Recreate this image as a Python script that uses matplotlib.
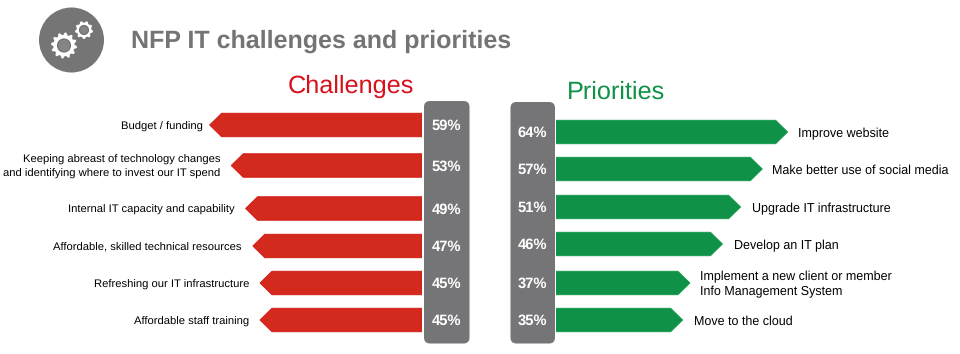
#!/usr/bin/env python3
"""NFP IT challenges and priorities: two mirrored arrow bar lists."""

import matplotlib
matplotlib.use("Agg")
import matplotlib.pyplot as plt
import numpy as np
from matplotlib.patches import Circle, FancyBboxPatch, Polygon

plt.rcParams["font.family"] = ["Liberation Sans", "DejaVu Sans"]
plt.rcParams["text.hinting"] = "no_hinting"

challenge_labels = [
    "Budget / funding",
    "Keeping abreast of technology changes\nand identifying where to invest our IT spend",
    "Internal IT capacity and capability",
    "Affordable, skilled technical resources",
    "Refreshing our IT infrastructure",
    "Affordable staff training",
]
challenge_values = [59, 53, 49, 47, 45, 45]

priority_labels = [
    "Improve website",
    "Make better use of social media",
    "Upgrade IT infrastructure",
    "Develop an IT plan",
    "Implement a new client or member\nInfo Management System",
    "Move to the cloud",
]
priority_values = [64, 57, 51, 46, 37, 35]

W, H = 960, 354
GREY = "#757578"
RED = "#d42a1e"
RED_EDGE = "#d2140f"
GREEN = "#0f9247"
GREEN_EDGE = "#12994c"

# layout in pixels
LEFT_ROWS = [125, 165.5, 208.5, 246, 283, 320]
RIGHT_ROWS = [132, 169, 207, 244, 283, 320]
LEFT_GAPS = [7, 11, 11, 11, 11, 11]
RIGHT_GAPS = [10, 10, 11, 11, 10, 11]
BAR_H = 23.5
LEFT_BASE, RIGHT_BASE = 422, 556
LEFT_PX_PER_PCT, RIGHT_PX_PER_PCT = 3.6, 3.62
HEAD_PX = 12


def gear(ax, cx, cy, r, teeth):
    """White toothed wheel with a ring in the middle."""
    n = teeth * 4
    ang = np.linspace(0, 2 * np.pi, n, endpoint=False) + np.pi / n
    rad = np.tile([r, r, r * 0.82, r * 0.82], teeth)
    pts = np.column_stack([cx + rad * np.cos(ang), cy + rad * np.sin(ang)])
    ax.add_patch(Polygon(pts, closed=True, fc="white", ec="none"))
    ax.add_patch(Circle((cx, cy), r * 0.5, fc="#858587", ec="#6e6e70", lw=0.8))


def arrow_bars(ax, rows, values, px_per_pct, color, edge):
    head = HEAD_PX / px_per_pct
    half = BAR_H / 2
    for y, v in zip(rows, values):
        pts = [(0, y - half), (v - head, y - half), (v, y),
               (v - head, y + half), (0, y + half)]
        ax.add_patch(Polygon(pts, closed=True, fc=color, ec=edge, lw=0.6))


fig = plt.figure(figsize=(W / 100, H / 100), dpi=100)

# pixel-space layer for the header and the grey pills
bg = fig.add_axes([0, 0, 1, 1])
bg.set_xlim(0, W)
bg.set_ylim(H, 0)
bg.axis("off")

bg.add_patch(Circle((71.5, 40), 32.5, fc="#757575", ec="none"))
gear(bg, 64, 45.5, 13, 12)
gear(bg, 84, 30, 9, 9)

bg.text(131, 41.5, "NFP IT challenges and priorities", fontsize=18.0, fontweight="bold",
        color="#747474", va="center", ha="left")
bg.text(351, 86, "Challenges", fontsize=18.2, color="#d7101a", va="center", ha="center")
bg.text(616.5, 92.5, "Priorities", fontsize=18.2, color="#0f9247", va="center", ha="center")

for x0, x1, y0, y1 in [(424, 469.5, 101, 343.5), (510.5, 555, 102, 343.5)]:
    bg.add_patch(FancyBboxPatch((x0 + 6, y0 + 6), x1 - x0 - 12, y1 - y0 - 12,
                                boxstyle="round,pad=6,rounding_size=6",
                                fc=GREY, ec="none"))

for y, v in zip(LEFT_ROWS, challenge_values):
    bg.text(446.5, y + 1, f"{v}%", color="white", fontsize=10.6, fontweight="bold",
            ha="center", va="center")
for y, v in zip(RIGHT_ROWS, priority_values):
    bg.text(532.5, y + 1, f"{v}%", color="white", fontsize=10.6, fontweight="bold",
            ha="center", va="center")

# challenges run leftwards from the pill, x axis in percent
ax_l = fig.add_axes([0, 0, LEFT_BASE / W, 1])
ax_l.set_xlim(LEFT_BASE / LEFT_PX_PER_PCT, 0)
ax_l.set_ylim(H, 0)
ax_l.axis("off")
arrow_bars(ax_l, LEFT_ROWS, challenge_values, LEFT_PX_PER_PCT, RED, RED_EDGE)
for y, v, lab, gap in zip(LEFT_ROWS, challenge_values, challenge_labels, LEFT_GAPS):
    ax_l.annotate(lab, (v, y), xytext=(-gap, -1.5), textcoords="offset pixels",
                  ha="right", va="center", multialignment="right",
                  fontsize=8.1, color="black", linespacing=1.4)

# priorities run rightwards
ax_r = fig.add_axes([RIGHT_BASE / W, 0, (W - RIGHT_BASE) / W, 1])
ax_r.set_xlim(0, (W - RIGHT_BASE) / RIGHT_PX_PER_PCT)
ax_r.set_ylim(H, 0)
ax_r.axis("off")
arrow_bars(ax_r, RIGHT_ROWS, priority_values, RIGHT_PX_PER_PCT, GREEN, GREEN_EDGE)
for y, v, lab, gap in zip(RIGHT_ROWS, priority_values, priority_labels, RIGHT_GAPS):
    ax_r.annotate(lab, (v, y), xytext=(gap, -1.5), textcoords="offset pixels",
                  ha="left", va="center", multialignment="left",
                  fontsize=9.0, color="black", linespacing=1.3)

fig.savefig("out.png", dpi=100)
plt.close(fig)
